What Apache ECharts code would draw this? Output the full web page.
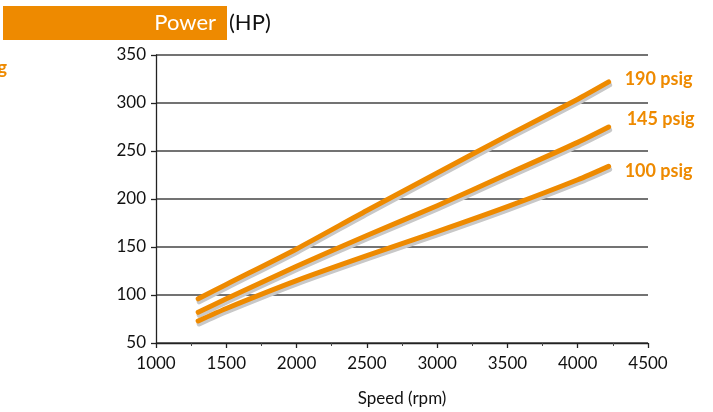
<!DOCTYPE html>
<html>
<head>
<meta charset="utf-8">
<script src="https://cdn.jsdelivr.net/npm/echarts@6/dist/echarts.min.js"></script>
<style>
html,body{margin:0;padding:0;background:#fff;}
#chart{width:713px;height:412px;}
</style>
</head>
<body>
<div id="chart"></div>
<script>
var speeds = [1300, 1500, 2000, 2500, 3000, 3500, 4000, 4220];
var power190 = [96, 111, 148, 188, 227, 266, 304, 322];
var power145 = [82, 96, 130, 162, 193, 226, 259, 275];
var power100 = [73, 86, 115, 141, 166, 192, 220, 234];
var seriesNames = ['190 psig', '145 psig', '100 psig'];
var xTicks = [1000, 1500, 2000, 2500, 3000, 3500, 4000, 4500];
var yTicks = [50, 100, 150, 200, 250, 300, 350];

var ORANGE = '#EE8A00';
var FONT = 'Lato, "Open Sans", sans-serif';

function pairs(vals) {
  return speeds.map(function (s, i) { return [s, vals[i]]; });
}

function makeSeries(name, vals, offset) {
  return {
    name: name,
    type: 'line',
    data: pairs(vals),
    showSymbol: false,
    symbol: 'none',
    smooth: 0.25,
    lineStyle: {
      color: ORANGE,
      width: 5,
      cap: 'round',
      join: 'round',
      shadowColor: '#c8c8c8',
      shadowBlur: 0,
      shadowOffsetX: 1,
      shadowOffsetY: 3
    },
    endLabel: {
      show: true,
      formatter: name,
      color: ORANGE,
      fontFamily: FONT,
      fontWeight: 'bold',
      fontSize: 18,
      offset: offset
    },
    emphasis: { disabled: true },
    silent: true
  };
}

var chart = echarts.init(document.getElementById('chart'), null, { renderer: 'canvas' });
chart.setOption({
  animation: false,
  backgroundColor: '#fff',
  grid: { left: 156, right: 65, top: 55, bottom: 69 },
  xAxis: {
    type: 'value',
    min: xTicks[0],
    max: xTicks[xTicks.length - 1],
    interval: 500,
    name: 'Speed (rpm)',
    nameLocation: 'middle',
    nameGap: 47,
    nameTextStyle: { color: '#111', fontFamily: FONT, fontSize: 17 },
    axisLine: { lineStyle: { color: '#222', width: 1.3 } },
    axisTick: { show: true, length: 5, lineStyle: { color: '#222', width: 1.3 } },
    minorTick: { show: true, splitNumber: 2, length: 3, lineStyle: { color: '#444' } },
    axisLabel: { color: '#111', fontFamily: FONT, fontSize: 17, margin: 12, formatter: function (v) { return String(v); } },
    splitLine: { show: false }
  },
  yAxis: {
    type: 'value',
    min: yTicks[0],
    max: yTicks[yTicks.length - 1],
    interval: 50,
    axisLine: { show: true, lineStyle: { color: '#222', width: 1.3 } },
    axisTick: { show: true, length: 5, lineStyle: { color: '#222', width: 1.3 } },
    axisLabel: { color: '#111', fontFamily: FONT, fontSize: 17, margin: 10, formatter: function (v) { return String(v); } },
    splitLine: { show: true, lineStyle: { color: '#444', width: 1.5 } }
  },
  graphic: [
    { type: 'rect', left: 3, top: 6, shape: { width: 224, height: 34 }, style: { fill: ORANGE } },
    { type: 'text', right: 713 - 216, top: 12, style: { text: 'Power', fill: '#fff', font: '22px ' + FONT } },
    { type: 'text', left: 229, top: 12, style: { text: '(HP)', fill: '#111', font: '22px ' + FONT } },
    { type: 'text', right: 706, top: 59, style: { text: '190 psig', fill: ORANGE, font: 'bold 18px ' + FONT } }
  ],
  series: [
    makeSeries(seriesNames[0], power190, [8, -3]),
    makeSeries(seriesNames[1], power145, [10, -8]),
    makeSeries(seriesNames[2], power100, [8, 5])
  ]
});
</script>
</body>
</html>
